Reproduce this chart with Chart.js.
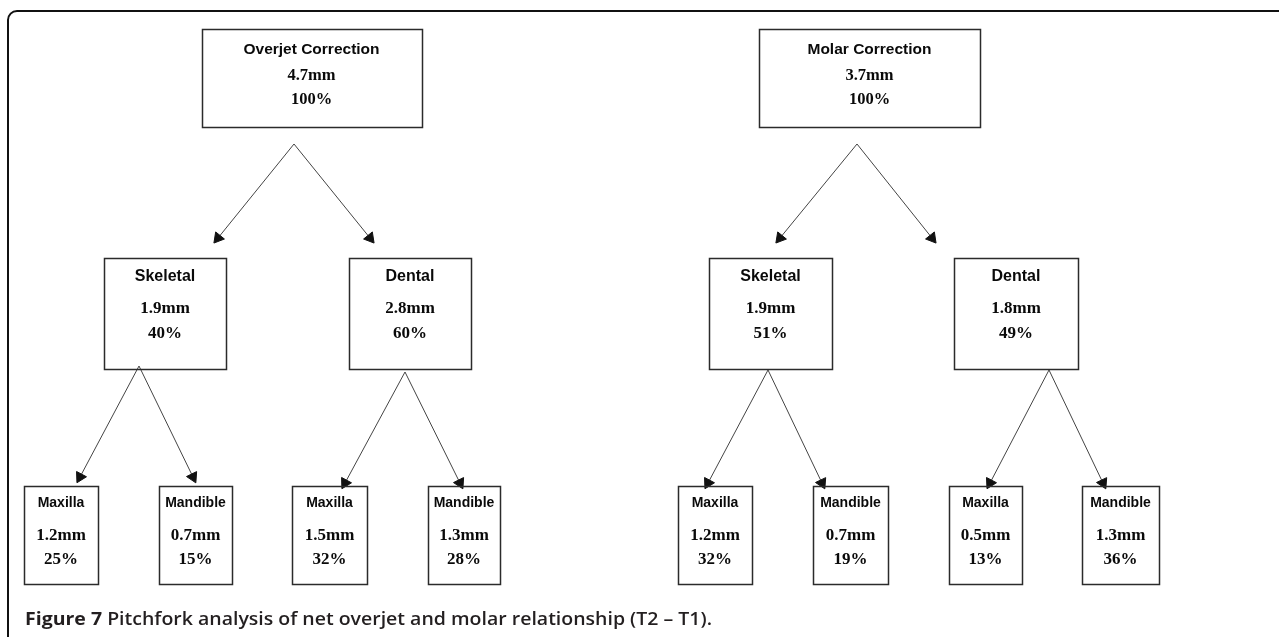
<!DOCTYPE html>
<html>
<head>
<meta charset="utf-8">
<script src="https://cdn.jsdelivr.net/npm/chart.js@4"></script>
<style>
html,body{margin:0;padding:0;background:#fff;}
#wrap{width:1279px;height:637px;position:relative;}
</style>
</head>
<body>
<div id="wrap"><canvas id="c" width="1279" height="637"></canvas></div>
<script>
// ---------- DATA ----------
const rootTitles = ["Overjet Correction", "Molar Correction"];
const rootMM = [4.7, 3.7];
const rootPct = [100, 100];

const midTitles = ["Skeletal", "Dental", "Skeletal", "Dental"];
const midMM = [1.9, 2.8, 1.9, 1.8];
const midPct = [40, 60, 51, 49];
const midParent = [0, 0, 1, 1];

const leafTitles = ["Maxilla", "Mandible", "Maxilla", "Mandible", "Maxilla", "Mandible", "Maxilla", "Mandible"];
const leafMM = [1.2, 0.7, 1.5, 1.3, 1.2, 0.7, 0.5, 1.3];
const leafPct = [25, 15, 32, 28, 32, 19, 13, 36];
const leafParent = [0, 0, 1, 1, 2, 2, 3, 3];

const captionBold = "Figure 7";
const captionText = " Pitchfork analysis of net overjet and molar relationship (T2 \u2013 T1).";

// ---------- LAYOUT (diagram geometry, in scale units) ----------
const rootX = [311.5, 869.5], rootY = 78, rootW = [220, 221], rootH = 98, rootLines = [-28, -2, 22];
const midX = [165, 410, 770.5, 1016], midY = 313.5, midW = [122, 122, 123, 124], midH = 111, midLines = [-36.5, -4.5, 20.5];
const leafX = [61, 195.5, 329.5, 464, 715, 850.5, 985.5, 1120.5], leafY = 535, leafW = [74, 73, 75, 72, 74, 75, 73, 77], leafH = 98, leafLines = [-32, 1, 25];
const rootApexX = [294, 857], rootApexY = 144;
const midTipX = [218, 370, 780, 932], midTipY = 238;
const midApexX = [139, 405, 768, 1049], midApexY = [366, 372, 370, 370];
const leafTipX = [80, 193, 345, 460, 708, 822, 990, 1103], leafTipY = [477, 477, 483, 483, 483, 483, 483, 483];

// ---------- BUILD ----------
const nodes = [];
rootTitles.forEach((t, i) => nodes.push({x: rootX[i], y: rootY, w: rootW[i], h: rootH, lines: rootLines,
  title: t, mm: rootMM[i], pct: rootPct[i], tf: "bold 15.5px 'Liberation Sans', Arial, sans-serif", vf: "bold 16.5px 'Liberation Serif', 'Times New Roman', serif"}));
midTitles.forEach((t, i) => nodes.push({x: midX[i], y: midY, w: midW[i], h: midH, lines: midLines,
  title: t, mm: midMM[i], pct: midPct[i], tf: "bold 16px 'Liberation Sans', Arial, sans-serif", vf: "bold 17px 'Liberation Serif', 'Times New Roman', serif"}));
leafTitles.forEach((t, i) => nodes.push({x: leafX[i], y: leafY, w: leafW[i], h: leafH, lines: leafLines,
  title: t, mm: leafMM[i], pct: leafPct[i], tf: "bold 14px 'Liberation Sans', Arial, sans-serif", vf: "bold 17px 'Liberation Serif', 'Times New Roman', serif"}));

function arrowDataset(ax, ay, tx, ty) {
  const ang = Math.atan2(tx - ax, -(ty - ay)) * 180 / Math.PI;
  return {
    type: 'line',
    data: [{x: ax, y: ay}, {x: tx, y: ty}],
    borderColor: '#444',
    borderWidth: 1,
    backgroundColor: '#111',
    pointBackgroundColor: '#111',
    pointBorderColor: '#111',
    pointBorderWidth: 1,
    pointRadius: [0, 6.5],
    pointStyle: 'triangle',
    pointRotation: [0, ang],
    tension: 0,
    fill: false
  };
}
const datasets = [];
midParent.forEach((p, i) => datasets.push(arrowDataset(rootApexX[p], rootApexY, midTipX[i], midTipY)));
leafParent.forEach((p, i) => datasets.push(arrowDataset(midApexX[p], midApexY[p], leafTipX[i], leafTipY[i])));
datasets.push({type: 'scatter', label: 'nodes', data: nodes.map(n => ({x: n.x, y: n.y})), pointRadius: 0, showLine: false});
const NODE_DS = datasets.length - 1;

const diagramPlugin = {
  id: 'diagram',
  beforeDatasetsDraw(chart) {
    const ctx = chart.ctx, xs = chart.scales.x, ys = chart.scales.y;
    ctx.save();
    ctx.strokeStyle = '#111';
    ctx.lineWidth = 2;
    const fx = xs.getPixelForValue(8), fy = ys.getPixelForValue(11), r = 9;
    ctx.beginPath();
    ctx.moveTo(fx, ys.getPixelForValue(640));
    ctx.lineTo(fx, fy + r);
    ctx.arcTo(fx, fy, fx + r, fy, r);
    ctx.lineTo(xs.getPixelForValue(1290), fy);
    ctx.stroke();
    ctx.restore();
  },
  afterDatasetsDraw(chart) {
    const ctx = chart.ctx, xs = chart.scales.x, ys = chart.scales.y;
    const meta = chart.getDatasetMeta(NODE_DS);
    ctx.save();
    nodes.forEach((n, i) => {
      const el = meta.data[i];
      const cx = el.x;
      const l = xs.getPixelForValue(n.x - n.w / 2), rr = xs.getPixelForValue(n.x + n.w / 2);
      const t = ys.getPixelForValue(n.y - n.h / 2), b = ys.getPixelForValue(n.y + n.h / 2);
      ctx.strokeStyle = '#2b2b2b';
      ctx.lineWidth = 1.5;
      ctx.strokeRect(Math.round(l) + 0.5, Math.round(t) + 0.5, Math.round(rr - l), Math.round(b - t));
      ctx.fillStyle = '#0a0a0a';
      ctx.textAlign = 'center';
      ctx.textBaseline = 'middle';
      ctx.font = n.tf;
      ctx.fillText(n.title, cx, ys.getPixelForValue(n.y + n.lines[0]));
      ctx.font = n.vf;
      ctx.fillText(n.mm.toFixed(1) + 'mm', cx, ys.getPixelForValue(n.y + n.lines[1]));
      ctx.fillText(n.pct + '%', cx, ys.getPixelForValue(n.y + n.lines[2]));
    });
    // caption
    ctx.textAlign = 'left';
    ctx.textBaseline = 'alphabetic';
    ctx.fillStyle = '#231f20';
    const capX = xs.getPixelForValue(25), capY = ys.getPixelForValue(624.5);
    const capEnd = xs.getPixelForValue(712);
    const fb = "bold 18px 'Open Sans', 'Noto Sans', sans-serif";
    const fr = "600 18px 'Open Sans', 'Noto Sans', sans-serif";
    ctx.font = fb; const bw = ctx.measureText(captionBold).width;
    ctx.font = fr; const rw = ctx.measureText(captionText).width;
    const sx = (capEnd - capX) / (bw + rw);
    ctx.translate(capX, capY);
    ctx.scale(sx, 1);
    ctx.font = fb; ctx.fillText(captionBold, 0, 0);
    ctx.font = fr; ctx.fillText(captionText, bw, 0);
    ctx.restore();
  }
};

new Chart(document.getElementById('c'), {
  type: 'scatter',
  data: {datasets},
  options: {
    responsive: false,
    animation: false,
    events: [],
    layout: {padding: 0, autoPadding: false},
    plugins: {legend: {display: false}, tooltip: {enabled: false}, title: {display: false}},
    scales: {
      x: {type: 'linear', min: 0, max: 1279, display: false},
      y: {type: 'linear', min: 0, max: 637, reverse: true, display: false}
    }
  },
  plugins: [diagramPlugin]
});
</script>
</body>
</html>
